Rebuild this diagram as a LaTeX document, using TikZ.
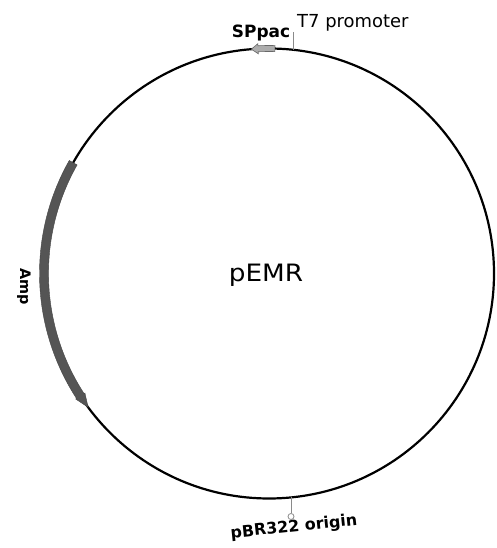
\documentclass[tikz,border=0pt]{standalone}
\usepackage{fontspec}
\setmainfont{DejaVu Sans}
\begin{document}
\begin{tikzpicture}[x=1bp,y=1bp,
  backbone/.style={draw=black,line width=2.2bp},
  ampfeat/.style={fill=ampgray,draw=ampgray!80!black,line width=0.4bp},
  spfeat/.style={fill=spgray,draw=spgray!60!black,line width=0.6bp},
  tick/.style={draw=tickgray,line width=0.8bp},
  lbl/.style={inner sep=0pt,text=black}]
\definecolor{ampgray}{HTML}{555555}
\definecolor{spgray}{HTML}{ADADAD}
\definecolor{tickgray}{HTML}{8A8A8A}
\useasboundingbox (0,0) rectangle (497,548);
\fill[white] (0,0) rectangle (497,548);
\coordinate (C) at (269,274.5);
\draw[backbone] (C) circle[radius=225];
\begin{scope}[shift={(C)}]
  % Amp feature
  \path[ampfeat] (150.5:229.5) arc[start angle=150.5,end angle=213,radius=229.5]
    -- (213:230.5) -- (216.5:225) -- (213:219.5) -- (213:220.5)
    arc[start angle=213,end angle=150.5,radius=220.5] -- cycle;
  % SPpac feature
  \path[spfeat] (88.5:228) arc[start angle=88.5,end angle=92.8,radius=228]
    -- (92.8:230) -- (94.5:225) -- (92.8:220) -- (92.8:222)
    arc[start angle=92.8,end angle=88.5,radius=222] -- cycle;
\end{scope}
% T7 promoter tick
\coordinate (t7a) at (293,498.2);
\coordinate (t7b) at (293,516);
\draw[tick] (t7a) -- (t7b);
% pBR322 origin tick
\coordinate (oria) at (291,50.6);
\coordinate (orib) at (291,34.5);
\draw[tick] (oria) -- (orib);
\node[draw=tickgray,line width=0.8bp,circle,minimum size=6bp,inner sep=0pt,fill=white] (oric) at (291,31.5) {};
% labels
\node[lbl,anchor=base] (pemr) at (266,266) {\scalebox{1.1}[1]{\fontsize{24}{24}\selectfont pEMR}};
\node[lbl,anchor=base] (sppac) at (261,510) {\fontsize{17}{17}\selectfont\bfseries SPpac};
\node[lbl,anchor=base west] (t7) at (297,520) {\fontsize{18}{18}\selectfont T7 promoter};
\node[lbl,rotate=6] (ori) at (294,20.5) {\fontsize{16}{16}\selectfont\bfseries pBR322 origin};
\node[lbl,rotate=-90] (amp) at (24,261) {\fontsize{14.5}{15}\selectfont\bfseries Amp};
\end{tikzpicture}
\end{document}
